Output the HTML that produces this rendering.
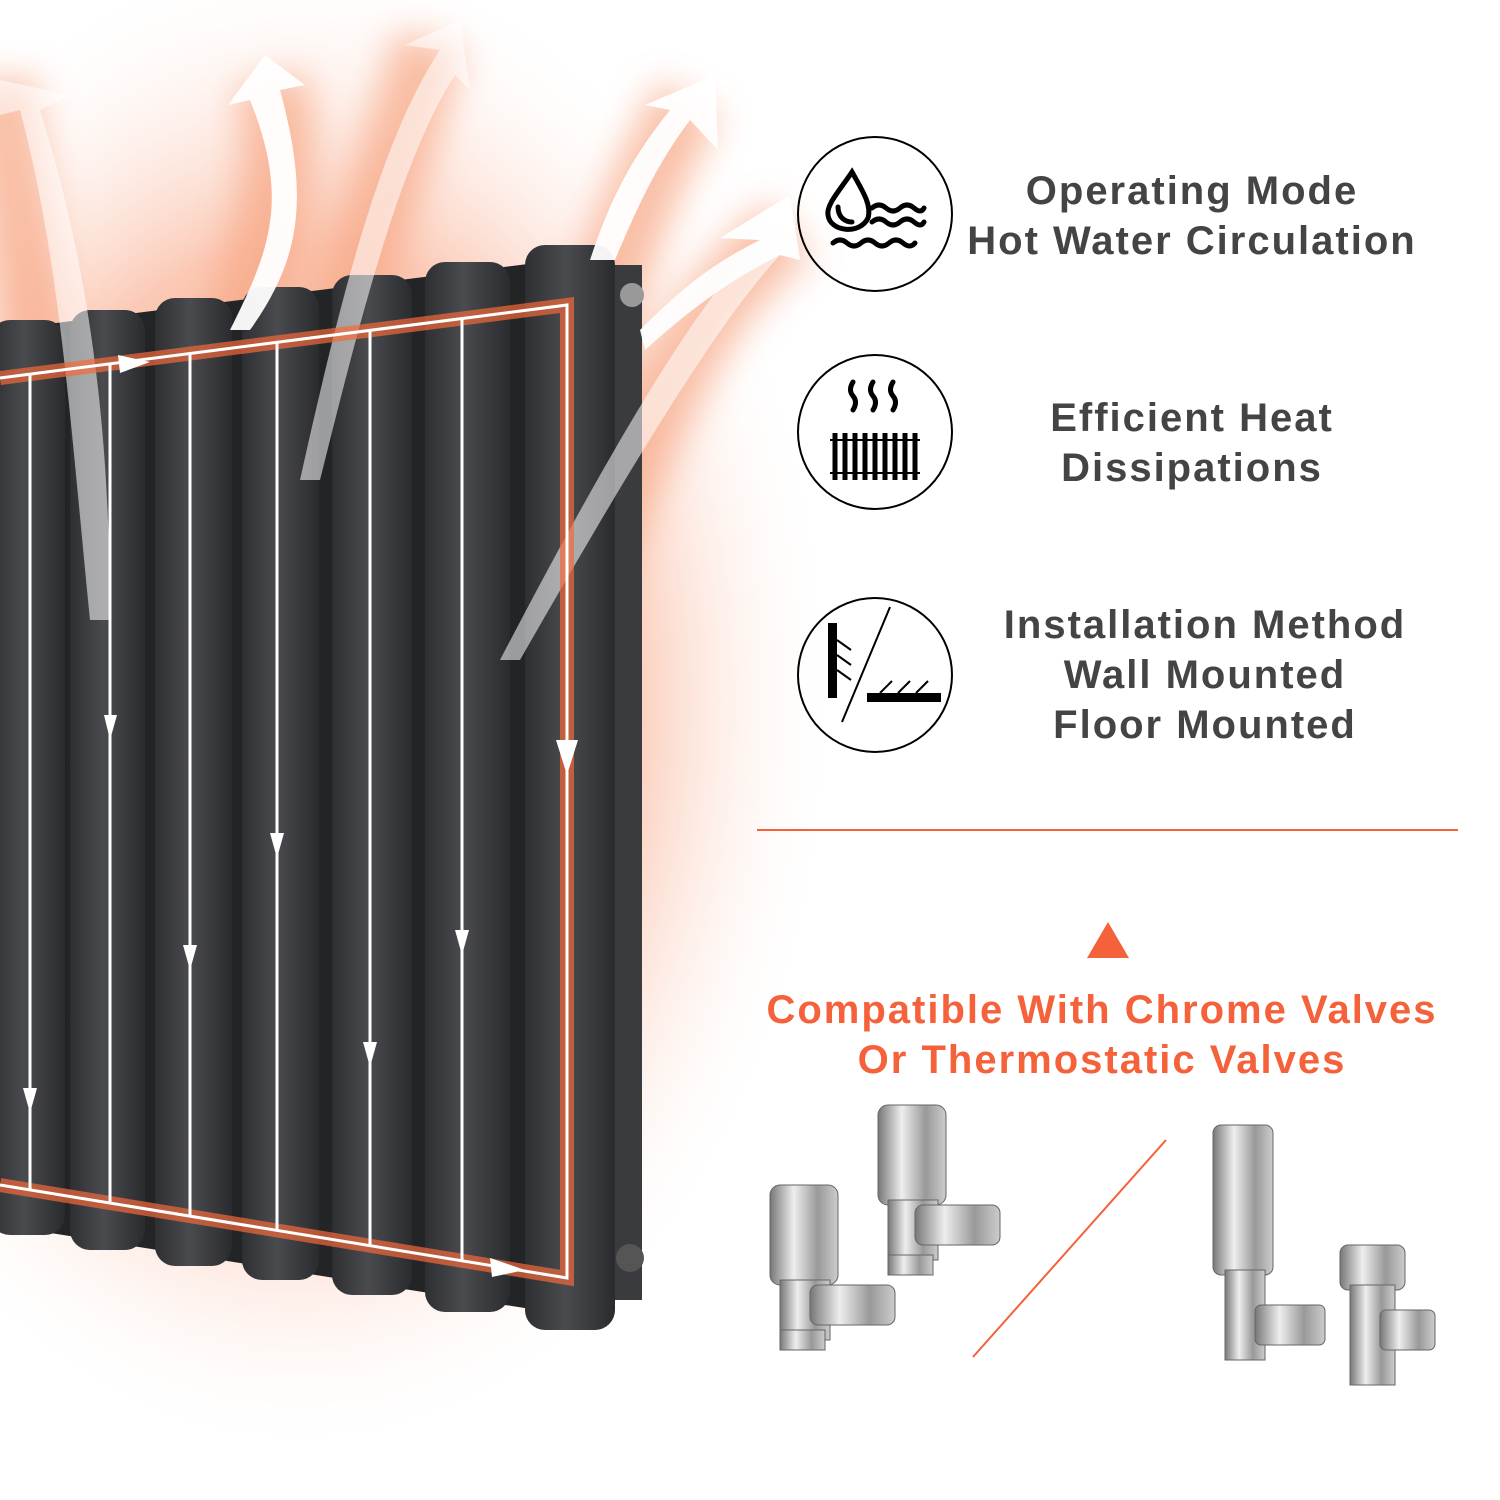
<!DOCTYPE html>
<html><head><meta charset="utf-8"><style>
body{margin:0;width:1500px;height:1500px;background:#fff;overflow:hidden;font-family:"Liberation Sans","DejaVu Sans",sans-serif}
svg{position:absolute;left:0;top:0}
</style></head><body>
<svg width="1500" height="1500" viewBox="0 0 1500 1500">
<defs>
<radialGradient id="glow" cx="0.5" cy="0.5" r="0.5">
<stop offset="0" stop-color="#f26a3a" stop-opacity="0.75"/>
<stop offset="0.6" stop-color="#f6885c" stop-opacity="0.45"/>
<stop offset="1" stop-color="#fff" stop-opacity="0"/>
</radialGradient>
<linearGradient id="tube" x1="0" x2="1">
<stop offset="0" stop-color="#2e2f32"/><stop offset="0.45" stop-color="#4a4b4f"/><stop offset="1" stop-color="#2a2b2e"/>
</linearGradient>
<filter id="blur"><feGaussianBlur stdDeviation="18"/></filter>
</defs>
<ellipse cx="300" cy="700" rx="540" ry="760" fill="url(#glow)"/>
<g stroke="#f7a582" stroke-width="70" fill="none" filter="url(#blur)" opacity="0.7">
<path d="M40 600 C 60 400 20 250 0 80"/>
<path d="M120 600 C 240 350 300 200 270 80"/>
<path d="M300 500 C 340 300 400 150 430 40"/>
<path d="M520 640 C 560 450 600 250 690 100"/>
<path d="M560 640 C 650 400 700 300 790 230"/>
</g>
<!-- radiator back -->
<path d="M0 330 L600 255 L600 1320 L0 1225Z" fill="#232426"/>
<g>
<rect x="600" y="265" width="42" height="1035" fill="#3a3b3e"/>
<circle cx="632" cy="295" r="12" fill="#999"/>
<circle cx="630" cy="1258" r="14" fill="#555"/>
<rect x="-10" y="320" width="75" height="915" rx="20" fill="url(#tube)"/>
<rect x="70" y="310" width="75" height="940" rx="20" fill="url(#tube)"/>
<rect x="155" y="298" width="77" height="968" rx="20" fill="url(#tube)"/>
<rect x="242" y="287" width="77" height="993" rx="20" fill="url(#tube)"/>
<rect x="332" y="275" width="80" height="1020" rx="20" fill="url(#tube)"/>
<rect x="425" y="262" width="85" height="1050" rx="20" fill="url(#tube)"/>
<rect x="525" y="245" width="90" height="1085" rx="20" fill="url(#tube)"/>
</g>
<g fill="#fff" opacity="0.55">
<path d="M90 620 C 70 420 60 260 20 110 L0 115 L0 80 L70 95 L40 110 C 90 270 110 430 110 620Z"/>
<path d="M300 480 C 340 300 380 140 440 50 L405 45 L460 20 L470 90 L455 75 C 400 160 360 320 320 480Z"/>
<path d="M500 660 C 620 430 700 300 760 240 L720 238 L790 195 L800 260 L780 255 C 720 320 640 450 520 660Z"/>
</g>
<g fill="#fff" opacity="0.95">
<path d="M230 330 C 270 250 290 200 250 100 L228 105 L265 55 L305 85 L280 90 C 310 200 300 260 250 330Z"/>
<path d="M590 260 C 610 200 630 160 670 110 L645 105 L715 75 L718 150 L690 120 C 660 160 640 200 615 260Z"/>
<path d="M640 330 C 690 280 720 260 760 240 L720 238 L790 195 L800 260 L780 255 C 740 275 700 300 645 350Z"/>
</g>
<g stroke="#f26a3a" stroke-width="14" fill="none" opacity="0.7">
<path d="M0 378 L567 305 L567 1278 L0 1185"/>
</g>
<g stroke="#fff" stroke-width="3" fill="none">
<path d="M0 378 L567 305 L567 1278 L0 1185"/>
<line x1="30" y1="374" x2="30" y2="1190"/>
<line x1="110" y1="364" x2="110" y2="1203"/>
<line x1="190" y1="354" x2="190" y2="1216"/>
<line x1="277" y1="342" x2="277" y2="1230"/>
<line x1="370" y1="330" x2="370" y2="1246"/>
<line x1="462" y1="318" x2="462" y2="1261"/>
</g>
<g fill="#fff">
<path d="M118 355 L150 362 L120 373Z"/>
<path d="M490 1258 L525 1270 L492 1277Z"/>
<path d="M104 715 L110 740 L117 715Z"/>
<path d="M270 833 L277 858 L284 833Z"/>
<path d="M183 945 L190 970 L197 945Z"/>
<path d="M455 930 L462 955 L469 930Z"/>
<path d="M363 1042 L370 1067 L377 1042Z"/>
<path d="M23 1088 L30 1113 L37 1088Z"/>
<path d="M556 740 L567 775 L578 740Z"/>
</g>
<g fill="none" stroke="#000" stroke-width="2">
<circle cx="875" cy="214" r="77"/>
<circle cx="875" cy="432" r="77"/>
<circle cx="875" cy="675" r="77"/>
</g>
<g fill="none" stroke="#000" stroke-width="5" stroke-linecap="round">
<path d="M852 172 C 840 190 826 205 828 215 C 830 232 860 235 868 218 C 872 205 862 190 852 172Z"/>
<path d="M838 207 C 838 218 846 222 852 222"/>
<path d="M872 208 q7 -6 14 0 t14 0 t14 0 t10 0"/>
<path d="M872 222 q7 -6 14 0 t14 0 t14 0 t10 0"/>
<path d="M833 243 q7 -6 14 0 t14 0 t14 0 t14 0 t14 0 t12 0"/>
<path d="M853 382 q-5 8 0 14 t0 14"/>
<path d="M873 382 q-5 8 0 14 t0 14"/>
<path d="M893 382 q-5 8 0 14 t0 14"/>
</g>
<g stroke="#000" stroke-width="5">
<line x1="835" y1="433" x2="835" y2="480"/><line x1="845" y1="433" x2="845" y2="480"/>
<line x1="855" y1="433" x2="855" y2="480"/><line x1="865" y1="433" x2="865" y2="480"/>
<line x1="875" y1="433" x2="875" y2="480"/><line x1="885" y1="433" x2="885" y2="480"/>
<line x1="895" y1="433" x2="895" y2="480"/><line x1="905" y1="433" x2="905" y2="480"/>
<line x1="915" y1="433" x2="915" y2="480"/>
<line x1="830" y1="440" x2="920" y2="440" stroke-width="2"/>
<line x1="830" y1="473" x2="920" y2="473" stroke-width="2"/>
</g>
<rect x="828" y="623" width="9" height="75" fill="#000"/>
<rect x="867" y="693" width="74" height="9" fill="#000"/>
<g stroke="#000" stroke-width="2">
<line x1="837" y1="640" x2="851" y2="650"/><line x1="837" y1="655" x2="851" y2="665"/><line x1="837" y1="670" x2="851" y2="680"/>
<line x1="890" y1="607" x2="842" y2="722"/>
<line x1="880" y1="693" x2="892" y2="681"/><line x1="898" y1="693" x2="910" y2="681"/><line x1="916" y1="693" x2="928" y2="681"/>
</g>
<g font-family="Liberation Sans, DejaVu Sans, sans-serif" font-weight="bold" font-size="40" fill="#444" text-anchor="middle" letter-spacing="2">
<text x="1192" y="204">Operating Mode</text>
<text x="1192" y="254">Hot Water Circulation</text>
<text x="1192" y="431">Efficient Heat</text>
<text x="1192" y="481">Dissipations</text>
<text x="1205" y="638">Installation Method</text>
<text x="1205" y="688">Wall Mounted</text>
<text x="1205" y="738">Floor Mounted</text>
</g>
<line x1="757" y1="830" x2="1458" y2="830" stroke="#f4613a" stroke-width="2"/>
<path d="M1087 958 L1108 922 L1129 958Z" fill="#f4613a"/>
<g font-family="Liberation Sans, DejaVu Sans, sans-serif" font-weight="bold" font-size="40" fill="#f4613a" text-anchor="middle" letter-spacing="2">
<text x="1102" y="1023">Compatible With Chrome Valves</text>
<text x="1102" y="1073">Or Thermostatic Valves</text>
</g>
<line x1="1166" y1="1140" x2="973" y2="1357" stroke="#f4613a" stroke-width="2"/>
<defs><linearGradient id="chrome" x1="0" x2="1"><stop offset="0" stop-color="#777"/><stop offset="0.35" stop-color="#eee"/><stop offset="0.7" stop-color="#999"/><stop offset="1" stop-color="#ccc"/></linearGradient></defs>
<g fill="url(#chrome)" stroke="#666" stroke-width="1">
<rect x="770" y="1185" width="68" height="100" rx="10"/><rect x="780" y="1280" width="50" height="60"/>
<rect x="810" y="1285" width="85" height="40" rx="8"/><rect x="780" y="1330" width="45" height="20"/>
<rect x="878" y="1105" width="68" height="100" rx="10"/><rect x="888" y="1200" width="50" height="60"/>
<rect x="915" y="1205" width="85" height="40" rx="8"/><rect x="888" y="1255" width="45" height="20"/>
<rect x="1213" y="1125" width="60" height="150" rx="8"/><rect x="1225" y="1270" width="40" height="90"/>
<rect x="1255" y="1305" width="70" height="40" rx="6"/>
<rect x="1340" y="1245" width="65" height="45" rx="8"/><rect x="1350" y="1285" width="45" height="100"/>
<rect x="1380" y="1310" width="55" height="40" rx="6"/>
</g>
</svg>
</body></html>
